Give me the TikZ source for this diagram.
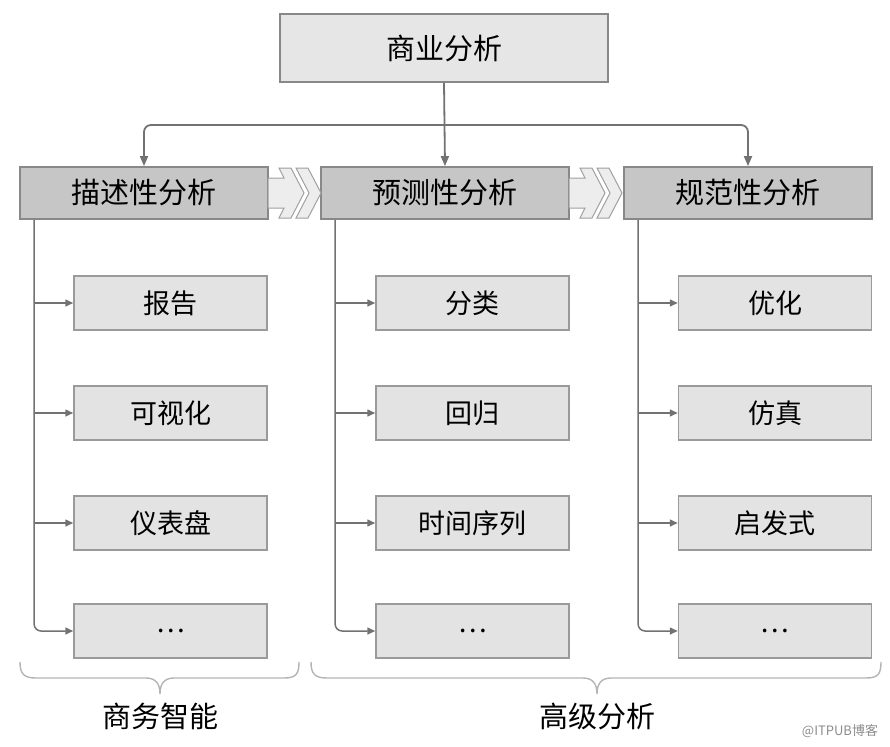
\documentclass[tikz,border=0pt]{standalone}
\usepackage{fontspec}
\setmainfont{Noto Sans CJK SC}
\usetikzlibrary{arrows.meta}
\definecolor{lnc}{HTML}{727272}
\definecolor{bdc}{HTML}{888888}
\definecolor{topf}{HTML}{E6E6E6}
\definecolor{midf}{HTML}{C6C6C6}
\definecolor{chf}{HTML}{E3E3E3}
\definecolor{chevf}{HTML}{EDEDED}
\definecolor{brc}{HTML}{B4B4B4}
\begin{document}
\begin{tikzpicture}[x=1pt,y=-1pt,
  topbox/.style={draw=bdc,line width=1.8pt,fill=topf,minimum width=328pt,minimum height=68pt,inner sep=0pt,font=\fontsize{29}{32}\selectfont},
  midbox/.style={draw=bdc,line width=1.8pt,fill=midf,minimum width=248pt,minimum height=52pt,inner sep=0pt,font=\fontsize{29}{32}\selectfont},
  childbox/.style={draw=bdc!85,line width=1.5pt,fill=chf,minimum width=193pt,minimum height=54pt,inner sep=0pt,font=\fontsize{27}{30}\selectfont},
  conn/.style={draw=lnc,line width=1.8pt,-{Triangle[length=10pt,width=8pt]}},
  sconn/.style={draw=lnc,line width=1.5pt,-{Triangle[length=8pt,width=7pt]}},
  chev/.style={draw=bdc!80,line width=1pt,fill=chevf},
  brace/.style={draw=brc,line width=1.4pt},
  lab/.style={font=\fontsize{29}{32}\selectfont}
]
\useasboundingbox (0,0) rectangle (890,746);

\node[topbox] (top) at (444,48) {商业分析};
\node[midbox] (desc) at (144,193) {描述性分析};
\node[midbox] (pred) at (445,193) {预测性分析};
\node[midbox] (pres) at (748,193) {规范性分析};

% chevron arrows
\foreach \xa in {268,569}{
  \draw[chev] (\xa,178) -- ++(16,0) -- ++(-5,-10) -- ++(12,0) -- ++(13,25) -- ++(-13,25) -- ++(-12,0) -- ++(5,-10) -- ++(-16,0) -- cycle;
  \draw[chev] (\xa+28,168) -- ++(12,0) -- ++(13,25) -- ++(-13,25) -- ++(-12,0) -- ++(13,-25) -- cycle;
}

% top connectors
\coordinate (j) at (444,125);
\draw[conn] (top.south) -- (pred.north);
\draw[conn,rounded corners=7pt] (j) -| (desc.north);
\draw[conn,rounded corners=7pt] (j) -| (pres.north);

% children
\node[childbox] (a1) at (170.5,303) {报告};
\node[childbox] (a2) at (170.5,413) {可视化};
\node[childbox] (a3) at (170.5,523) {仪表盘};
\node[childbox] (a4) at (170.5,631) {…};
\node[childbox] (b1) at (472.5,303) {分类};
\node[childbox] (b2) at (472.5,413) {回归};
\node[childbox] (b3) at (472.5,523) {时间序列};
\node[childbox] (b4) at (472.5,631) {…};
\node[childbox] (c1) at (775,303) {优化};
\node[childbox] (c2) at (775,413) {仿真};
\node[childbox] (c3) at (775,523) {启发式};
\node[childbox] (c4) at (775,631) {…};

\foreach \p/\c in {desc/a,pred/b,pres/c}{
  \coordinate (\c s) at ([xshift=15pt]\p.south west);
  \draw[sconn,rounded corners=7pt] (\c s) |- (\c4.west);
  \foreach \i in {1,2,3}{
    \draw[sconn] (\c s |- \c\i.west) -- (\c\i.west);
  }
}

% braces
\draw[brace] (20,662) .. controls (20,674) and (24,678) .. (36,678) -- (146,678) .. controls (156,678) and (160,684) .. (160,694) .. controls (160,684) and (164,678) .. (174,678) -- (284,678) .. controls (296,678) and (299,674) .. (299,662);
\draw[brace] (311,662) .. controls (311,674) and (315,678) .. (327,678) -- (583,678) .. controls (593,678) and (597,684) .. (597,694) .. controls (597,684) and (601,678) .. (611,678) -- (866,678) .. controls (878,678) and (881,674) .. (881,662);

\node[lab] (bi) at (160,716) {商务智能};
\node[lab] (aa) at (597,716) {高级分析};
\node[font=\fontsize{13}{15}\selectfont,text=black!45] (wm) at (840,731) {@ITPUB博客};
\end{tikzpicture}
\end{document}
